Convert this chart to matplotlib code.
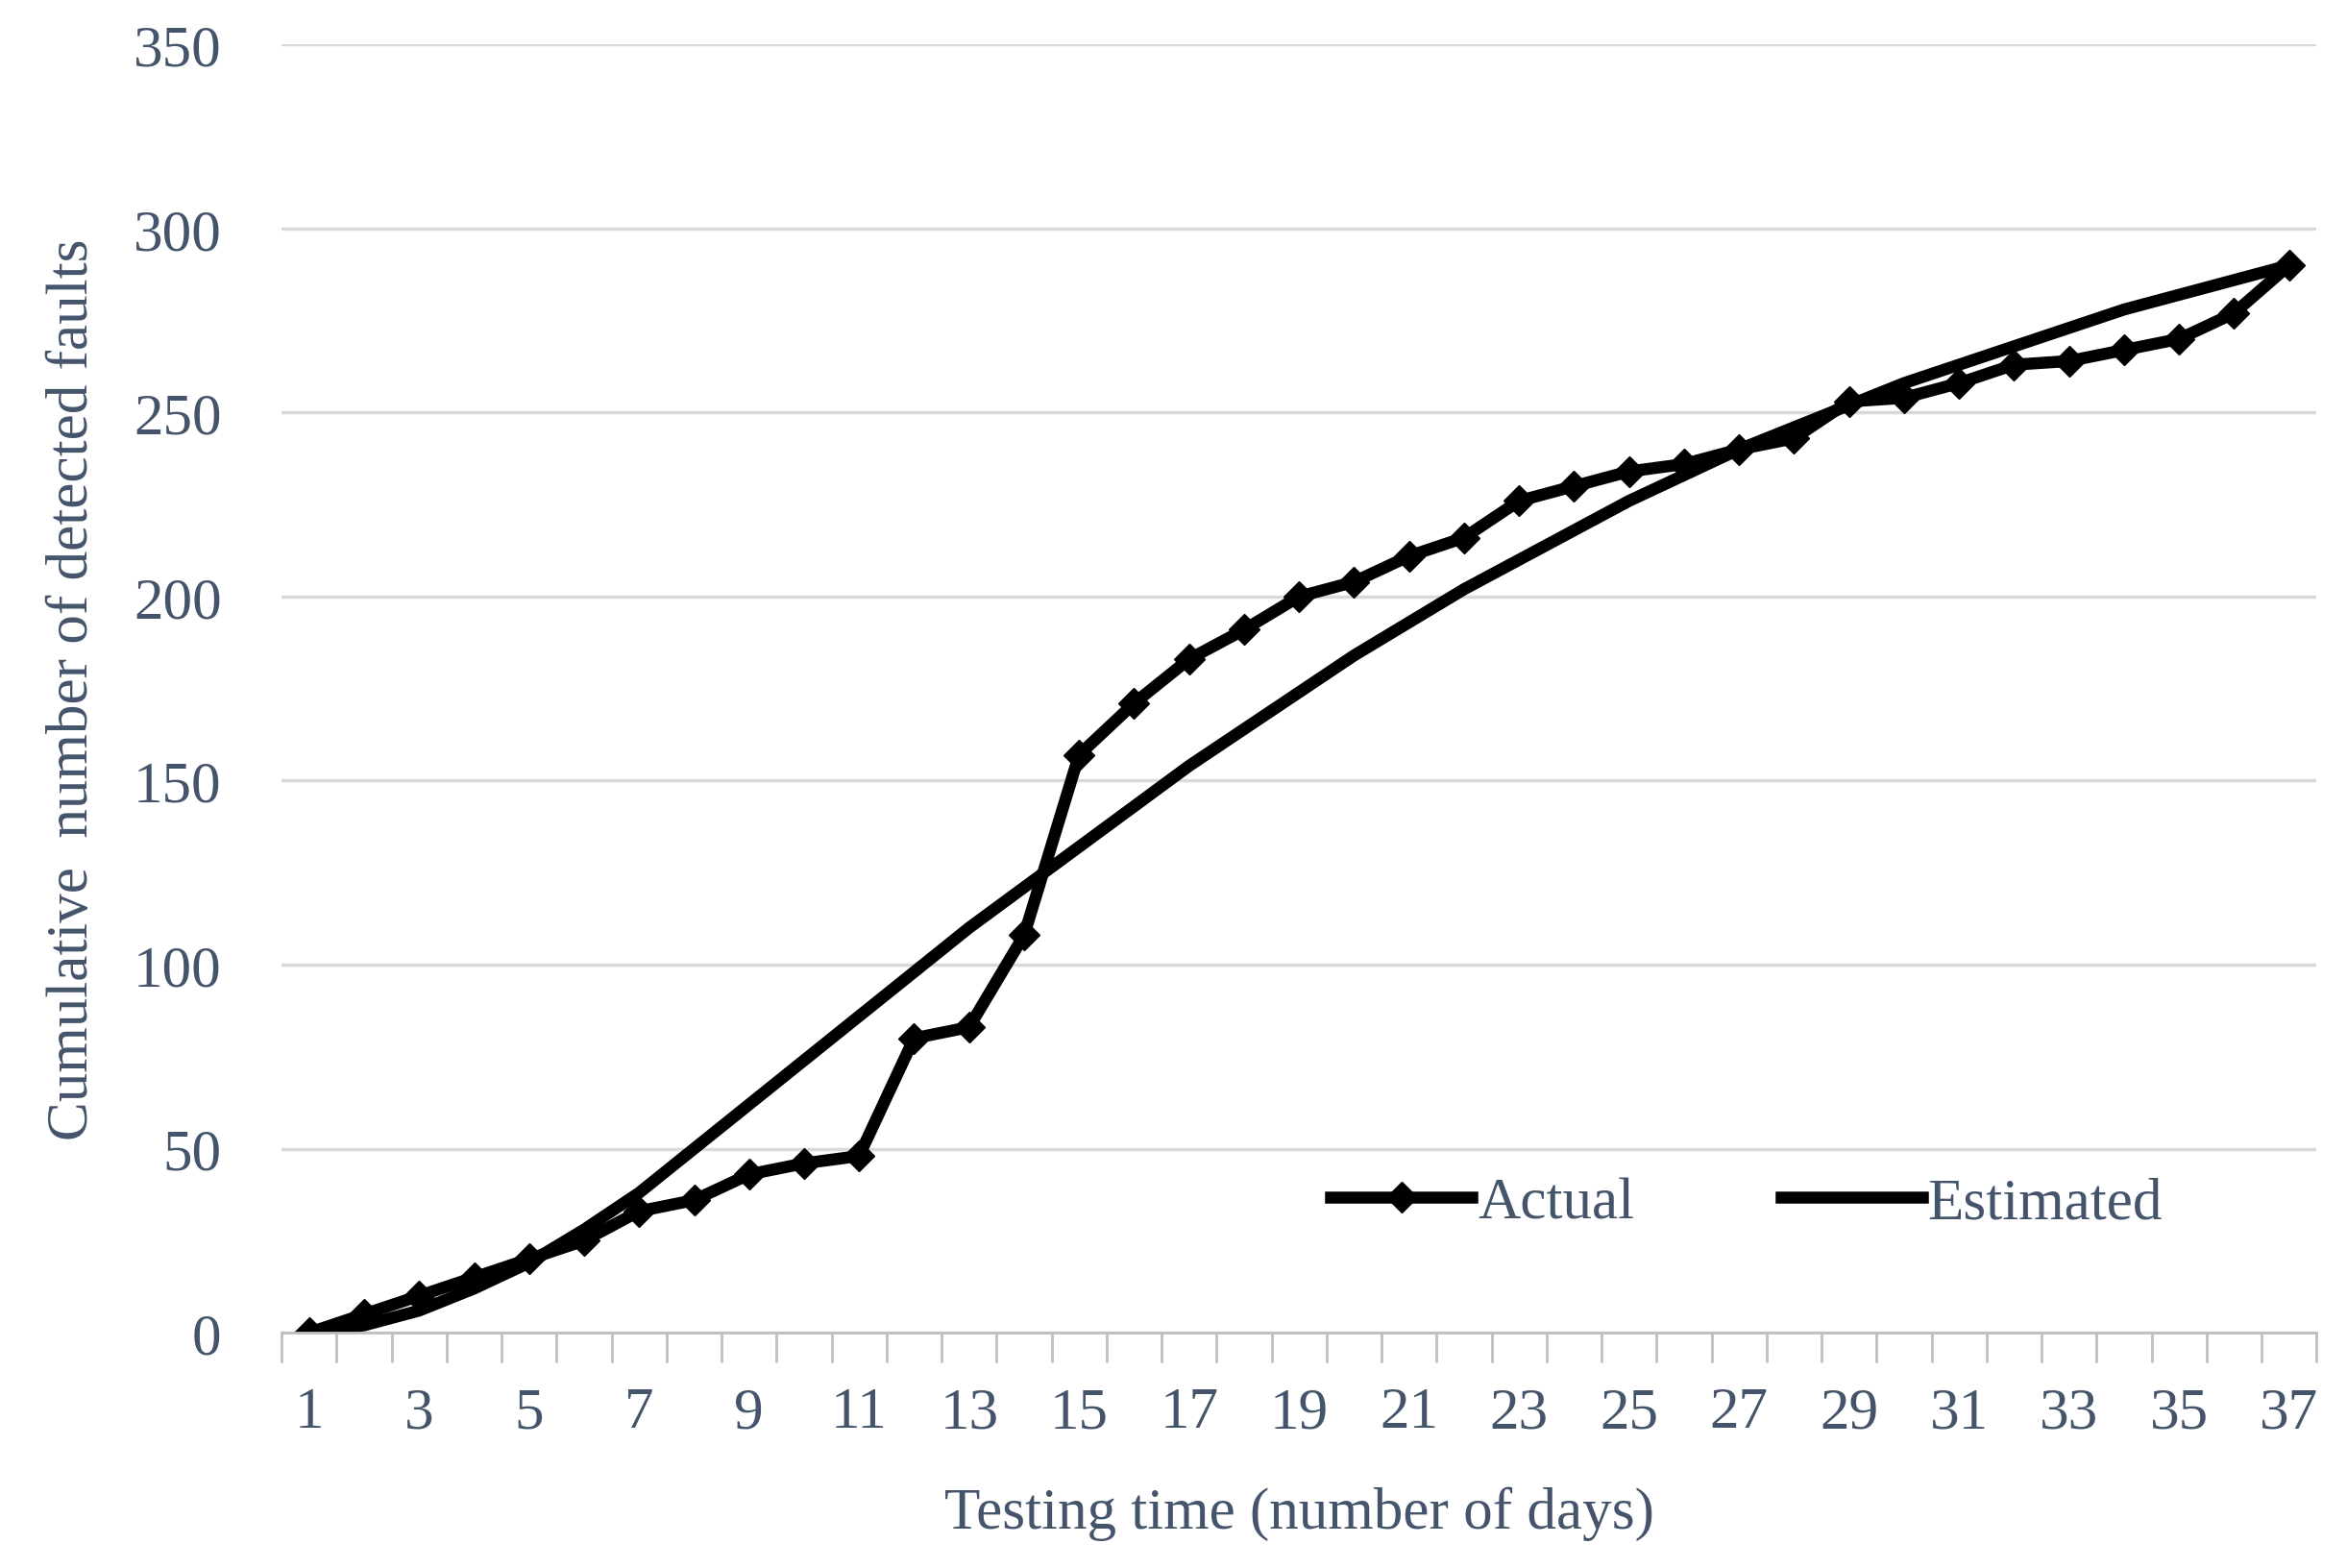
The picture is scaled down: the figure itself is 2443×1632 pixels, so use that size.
import matplotlib.pyplot as plt
import numpy as np

days = np.arange(1, 38)
actual = [0, 5, 10, 15, 20, 25, 33, 36, 43, 46, 48, 80, 83, 108, 157, 171, 183, 191, 200, 204,
          211, 216, 226, 230, 234, 236, 240, 243, 253, 254, 258, 263, 264, 267, 270, 277, 290]
estimated = [0, 2, 6, 12, 19, 28, 38, 50, 62, 74, 86, 98, 110, 121, 132, 143, 154, 164, 174, 184,
             193, 202, 210, 218, 226, 233, 240, 246, 252, 258, 263, 268, 273, 278, 282, 286, 290]

txt = '#44546A'
plt.rcParams['font.family'] = ['Liberation Serif', 'DejaVu Serif']
plt.rcParams['font.size'] = 44

fig = plt.figure(figsize=(24.43, 16.33), dpi=100)
ax = fig.add_axes([0.12, 0.15, 0.867, 0.821])

ax.plot(days, actual, color='black', lw=9, marker='D', ms=16, label='Actual')
ax.plot(days, estimated, color='black', lw=9, label='Estimated')

ax.set_xlim(0.5, 37.5)
ax.set_ylim(0, 350)
ax.set_yticks(range(0, 351, 50))
ax.yaxis.grid(True, color='#d9d9d9', lw=2.5)
ax.set_axisbelow(True)
ax.set_xticks(days[::2])
ax.set_xticks(np.arange(0.5, 38, 1), minor=True)
ax.tick_params(axis='x', which='major', length=0, pad=40, colors=txt)
ax.tick_params(axis='x', which='minor', length=22, width=2, color='#bfbfbf')
ax.tick_params(axis='y', length=0, pad=45, colors=txt)
for s in ['top', 'right', 'left']:
    ax.spines[s].set_visible(False)
ax.spines['bottom'].set_color('#bfbfbf')
ax.spines['bottom'].set_linewidth(2)

ax.set_xlabel('Testing time (number of days)', color=txt, labelpad=35)
ax.set_ylabel('Cumulative  number of detected faults', color=txt, labelpad=25)

ax.legend(loc='center', bbox_to_anchor=(0.72, 0.1), ncol=2, frameon=False,
          handlelength=2.4, handletextpad=0.1, columnspacing=2.5, labelcolor=txt)

fig.savefig('out.png', dpi=100)
